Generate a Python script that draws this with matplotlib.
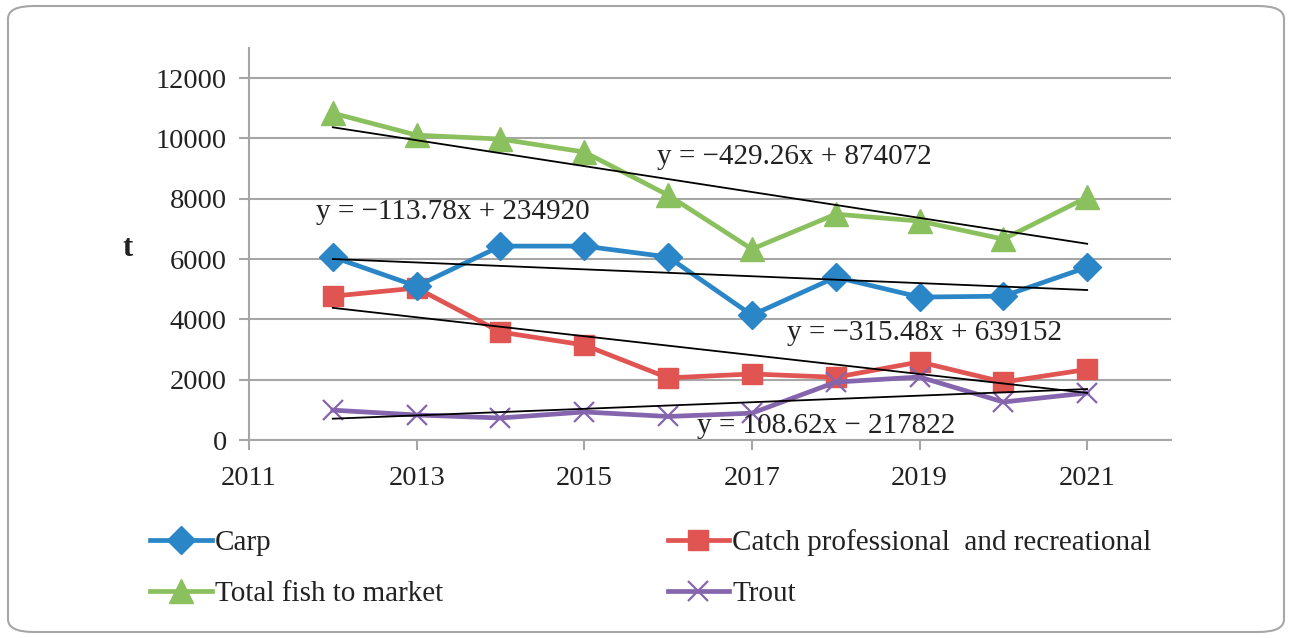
import numpy as np
import matplotlib
matplotlib.use("Agg")
import matplotlib.pyplot as plt
from matplotlib.patches import FancyBboxPatch

years = [2012, 2013, 2014, 2015, 2016, 2017, 2018, 2019, 2020, 2021]
carp = [6070, 5100, 6430, 6430, 6070, 4140, 5400, 4740, 4770, 5730]
catch = [4770, 5040, 3580, 3150, 2060, 2190, 2080, 2590, 1920, 2340]
total = [10840, 10110, 9980, 9550, 8120, 6330, 7490, 7260, 6660, 8050]
trout = [990, 830, 730, 930, 780, 890, 1920, 2090, 1260, 1560]

x_ticks = [2011, 2013, 2015, 2017, 2019, 2021]
y_ticks = [0, 2000, 4000, 6000, 8000, 10000, 12000]

eq_total = "y = \u2212429.26x + 874072"
eq_carp = "y = \u2212113.78x + 234920"
eq_catch = "y = \u2212315.48x + 639152"
eq_trout = "y = 108.62x \u2212 217822"

plt.rcParams['font.family'] = ['Liberation Serif', 'DejaVu Serif']
FS = 21
TFS = 20.5

fig = plt.figure(figsize=(12.92, 6.38), dpi=100)
border = FancyBboxPatch((8 / 1292, 6 / 638), 1276 / 1292, 626 / 638,
                        boxstyle="round,pad=0,rounding_size=0.02",
                        transform=fig.transFigure, facecolor='white',
                        edgecolor='#a6a6a6', linewidth=1.5, zorder=-10)
fig.patches.append(border)

ax = fig.add_axes([249 / 1292, 1 - 440 / 638, (1171 - 249) / 1292, (440 - 48) / 638])
ax.set_facecolor('none')

col_carp = '#2a86c6'
col_catch = '#e05452'
col_total = '#8bc05e'
col_trout = '#8566ae'

l_carp, = ax.plot(years, carp, color=col_carp, lw=3.4, marker='D', ms=14, label='Carp', zorder=4)
l_catch, = ax.plot(years, catch, color=col_catch, lw=3.4, marker='s', ms=15,
                   label='Catch professional  and recreational', zorder=3)
l_total, = ax.plot(years, total, color=col_total, lw=3.4, marker='^', ms=17,
                   label='Total fish to market', zorder=3)
l_trout, = ax.plot(years, trout, color=col_trout, lw=3.4, marker='x', ms=15, mew=1.6,
                   label='Trout', zorder=3)

yr = np.array(years, dtype=float)
for series in (total, carp, catch, trout):
    k, b = np.polyfit(yr, np.array(series, dtype=float), 1)
    ax.plot([yr[0], yr[-1]], [k * yr[0] + b, k * yr[-1] + b], color='black', lw=1.3, zorder=5)

tc = '#222222'
ax.text(2015.87, 9380, eq_total, fontsize=FS, color=tc, va='center', ha='left', zorder=6)
ax.text(2011.80, 7560, eq_carp, fontsize=FS, color=tc, va='center', ha='left', zorder=6)
ax.text(2017.42, 3550, eq_catch, fontsize=FS, color=tc, va='center', ha='left', zorder=6)
ax.text(2016.35, 480, eq_trout, fontsize=FS, color=tc, va='center', ha='left', zorder=6)

ax.set_xlim(2011, 2022)
ax.set_ylim(0, 13000)
ax.set_xticks(x_ticks)
ax.set_yticks(y_ticks)
ax.tick_params(axis='both', labelsize=TFS, colors='#a6a6a6', labelcolor=tc, length=7, width=1.5)
ax.tick_params(axis='y', pad=9)
ax.tick_params(axis='x', pad=12)
ax.yaxis.grid(True, color='#a6a6a6', lw=1.5)
ax.set_axisbelow(True)
for s in ('top', 'right'):
    ax.spines[s].set_visible(False)
for s in ('left', 'bottom'):
    ax.spines[s].set_color('#a6a6a6')
    ax.spines[s].set_linewidth(1.5)

fig.text(128 / 1292, 1 - 248 / 638, 't', fontsize=22, fontweight='bold', color=tc, ha='center', va='center')

leg = fig.legend([l_carp, l_total, l_catch, l_trout],
                 [l_carp.get_label(), l_total.get_label(), l_catch.get_label(), l_trout.get_label()],
                 ncol=2, loc='upper left', bbox_to_anchor=(124 / 1292, 1 - 503 / 638),
                 frameon=False, fontsize=FS, handlelength=2.1, handletextpad=0.12,
                 columnspacing=7.7, labelspacing=0.85, labelcolor=tc)

fig.savefig('out.png', dpi=100)
